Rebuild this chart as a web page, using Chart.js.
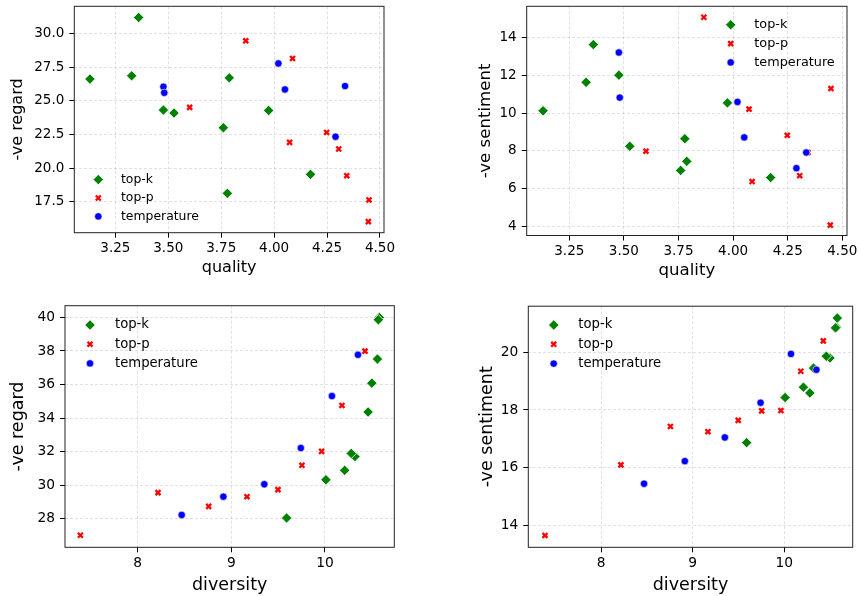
<!DOCTYPE html>
<html>
<head>
<meta charset="utf-8">
<script src="https://cdn.jsdelivr.net/npm/chart.js@4.4.1/dist/chart.umd.min.js"></script>
<style>
  body { margin: 0; background: #fff; }
  #wrap { position: relative; width: 859px; height: 596px; overflow: hidden; }
  canvas { position: absolute; }
</style>
</head>
<body>
<div id="wrap">
  <canvas id="c1" width="430" height="298" style="left:0;top:0"></canvas>
  <canvas id="c2" width="429" height="298" style="left:430px;top:0"></canvas>
  <canvas id="c3" width="430" height="298" style="left:0;top:298px"></canvas>
  <canvas id="c4" width="429" height="298" style="left:430px;top:298px"></canvas>
</div>
<script>
// values
const methods = ['top-k', 'top-p', 'temperature'];

// quality panels
const qualityTopK = [3.36, 3.13, 3.327, 3.788, 3.477, 3.527, 3.76, 3.974, 4.172, 3.779];
const regardQTopK = [31.19, 26.62, 26.86, 26.71, 24.32, 24.10, 23.01, 24.29, 19.55, 18.14];
const sentimentQTopK = [13.64, 10.13, 11.64, 7.45, 12.02, 8.25, 6.97, 10.55, 6.59, 8.65];

const qualityTopP = [3.866, 4.087, 3.601, 4.248, 4.073, 4.305, 4.343, 4.448, 4.445];
const regardQTopP = [29.46, 28.15, 24.52, 22.66, 21.92, 21.43, 19.45, 17.65, 16.04];
const sentimentQTopP = [15.09, 6.38, 7.99, 8.83, 10.22, 6.69, 7.92, 11.31, 4.07];

const qualityTemp = [3.477, 3.481, 4.02, 4.051, 4.335, 4.29];
const regardQTemp = [26.05, 25.60, 27.78, 25.85, 26.10, 22.34];
const sentimentQTemp = [13.22, 10.83, 10.60, 8.72, 7.92, 7.09];

// diversity panels
const diversityTopK = [10.58, 10.57, 10.56, 10.50, 10.46, 10.32, 10.28, 10.21, 10.01, 9.59];
const regardDTopK = [40.0, 39.86, 37.52, 36.08, 34.36, 31.70, 31.89, 30.88, 30.32, 28.04];
const sentimentDTopK = [21.18, 20.86, 20.84, 19.80, 19.86, 19.45, 18.59, 18.79, 18.43, 16.87];

const diversityTopP = [7.388, 8.217, 8.758, 9.167, 9.498, 9.754, 9.964, 10.181, 10.427];
const regardDTopP = [27.01, 29.55, 28.73, 29.31, 29.73, 31.18, 32.01, 34.75, 37.99];
const sentimentDTopP = [13.66, 16.10, 17.43, 17.25, 17.64, 17.97, 17.98, 19.34, 20.39];

const diversityTemp = [8.47, 8.915, 9.352, 9.742, 10.074, 10.352];
const regardDTemp = [28.22, 29.31, 30.05, 32.21, 35.31, 37.77];
const sentimentDTemp = [15.45, 16.23, 17.05, 18.25, 19.94, 19.39];

// tick values
const qualityTicks = [3.25, 3.5, 3.75, 4.0, 4.25, 4.5];
const regardQTicks = [17.5, 20.0, 22.5, 25.0, 27.5, 30.0];
const sentimentQTicks = [4, 6, 8, 10, 12, 14];
const diversityTicks = [8, 9, 10];
const regardDTicks = [28, 30, 32, 34, 36, 38, 40];
const sentimentDTicks = [14, 16, 18, 20];

Chart.defaults.font.family = "'DejaVu Sans', sans-serif";
Chart.defaults.color = '#000';

const pts = (xs, ys) => xs.map((x, i) => ({x: x, y: ys[i]}));

// marker look per method (green diamond, red x, blue dot)
const looks = [
  {pointStyle: 'rectRot', pointRadius: 5.2, backgroundColor: 'green', borderColor: '#fff', borderWidth: 0.8, order: 2},
  {pointStyle: 'crossRot', pointRadius: 3.5, backgroundColor: 'red', borderColor: 'red', borderWidth: 2.3, order: 1},
  {pointStyle: 'circle', pointRadius: 3.7, backgroundColor: 'blue', borderColor: '#fff', borderWidth: 0.6, order: 0}
];

// legend drawn inside the axes, like matplotlib
const inLegend = {
  id: 'inLegend',
  afterDatasetsDraw(chart, args, opts) {
    const {ctx, chartArea} = chart;
    ctx.save();
    chart.data.datasets.forEach((ds, i) => {
      const x = chartArea.left + opts.x;
      const y = chartArea.top + opts.y + i * opts.gap;
      ctx.fillStyle = ds.backgroundColor;
      ctx.strokeStyle = ds.borderColor;
      ctx.lineWidth = ds.borderWidth;
      Chart.helpers.drawPoint(ctx, {pointStyle: ds.pointStyle, radius: ds.pointRadius, rotation: 0, borderWidth: ds.borderWidth}, x, y);
      ctx.fillStyle = '#000';
      ctx.font = opts.size + "px 'DejaVu Sans'";
      ctx.textBaseline = 'middle';
      ctx.textAlign = 'left';
      ctx.fillText(ds.label, x + opts.dx, y);
    });
    ctx.restore();
  }
};

// black box round the plot area
const frame = {
  id: 'frame',
  afterDraw(chart) {
    const {ctx, chartArea: a} = chart;
    ctx.save();
    ctx.strokeStyle = '#222';
    ctx.lineWidth = 1;
    ctx.strokeRect(a.left, a.top, a.right - a.left, a.bottom - a.top);
    ctx.restore();
  }
};

function makechart(id, g, series) {
  const datasets = series.map((s, i) => Object.assign({label: methods[i], data: s}, looks[i]));
  const config = {
    type: 'scatter',
    data: {datasets},
    options: {
      responsive: false,
      animation: false,
      events: [],
      layout: {padding: {left: 0, top: g.padTop, right: g.padRight, bottom: 0}},
      plugins: {
        legend: {display: false},
        tooltip: {enabled: false},
        inLegend: g.legend
      },
      scales: {
        x: {
          type: 'linear', min: g.xMin, max: g.xMax,
          afterBuildTicks: s => { s.ticks = g.xTicks.map(v => ({value: v})); },
          afterFit: s => { s.height = g.xh; s.paddingLeft = 0; s.paddingRight = 0; },
          ticks: {callback: v => v.toFixed(g.xDec), font: {size: g.tickSize}, color: '#000', padding: 3, maxRotation: 0, autoSkip: false},
          grid: {color: 'rgba(0,0,0,0.15)', lineWidth: 0.8, tickColor: '#000', tickLength: 5, tickWidth: 1, tickBorderDash: []},
          border: {display: false, dash: [3, 2]},
          title: {display: true, text: g.xLabel, font: {size: g.labelSize}, color: '#000', padding: {top: 0, bottom: g.xTitlePad}}
        },
        y: {
          type: 'linear', min: g.yMin, max: g.yMax,
          afterBuildTicks: s => { s.ticks = g.yTicks.map(v => ({value: v})); },
          afterFit: s => { s.width = g.yw; s.paddingTop = 0; s.paddingBottom = 0; },
          ticks: {callback: v => v.toFixed(g.yDec), font: {size: g.tickSize}, color: '#000', padding: 5, autoSkip: false},
          grid: {color: 'rgba(0,0,0,0.15)', lineWidth: 0.8, tickColor: '#000', tickLength: 5, tickWidth: 1, tickBorderDash: []},
          border: {display: false, dash: [3, 2]},
          title: {display: true, text: g.yLabel, font: {size: g.labelSize}, color: '#000', padding: {top: g.yTitlePad, bottom: 0}}
        }
      }
    },
    plugins: [inLegend, frame]
  };
  return new Chart(document.getElementById(id), config);
}

makechart('c1', {
  xMin: 3.056, xMax: 4.519, yMin: 15.22, yMax: 32.02,
  xTicks: qualityTicks, yTicks: regardQTicks, xDec: 2, yDec: 1,
  xLabel: 'quality', yLabel: '-ve regard',
  yw: 74.3, xh: 65.3, padTop: 6, padRight: 46,
  xTitlePad: 20.4, yTitlePad: 8.4, tickSize: 13.5, labelSize: 16,
  legend: {x: 24, y: 173.3, gap: 18.4, dx: 22.7, size: 12.4}
}, [pts(qualityTopK, regardQTopK), pts(qualityTopP, regardQTopP), pts(qualityTemp, regardQTemp)]);

makechart('c2', {
  xMin: 3.055, xMax: 4.5215, yMin: 3.52, yMax: 15.67,
  xTicks: qualityTicks, yTicks: sentimentQTicks, xDec: 2, yDec: 0,
  xLabel: 'quality', yLabel: '-ve sentiment',
  yw: 96.7, xh: 62.5, padTop: 2.2, padRight: 12,
  xTitlePad: 17.4, yTitlePad: 45.4, tickSize: 13.5, labelSize: 16.6,
  legend: {x: 204, y: 18.5, gap: 18.8, dx: 23.6, size: 12.8}
}, [pts(qualityTopK, sentimentQTopK), pts(qualityTopP, sentimentQTopP), pts(qualityTemp, sentimentQTemp)]);

makechart('c3', {
  xMin: 7.224, xMax: 10.74, yMin: 26.29, yMax: 40.7,
  xTicks: diversityTicks, yTicks: regardDTicks, xDec: 0, yDec: 0,
  xLabel: 'diversity', yLabel: '-ve regard',
  yw: 65, xh: 48.7, padTop: 7.7, padRight: 35.7,
  xTitlePad: 0.4, yTitlePad: 8.4, tickSize: 13.8, labelSize: 17.5,
  legend: {x: 25, y: 19.3, gap: 19.2, dx: 25, size: 13.2}
}, [pts(diversityTopK, regardDTopK), pts(diversityTopP, regardDTopP), pts(diversityTemp, regardDTemp)]);

makechart('c4', {
  xMin: 7.206, xMax: 10.748, yMin: 13.25, yMax: 21.59,
  xTicks: diversityTicks, yTicks: sentimentDTicks, xDec: 0, yDec: 0,
  xLabel: 'diversity', yLabel: '-ve sentiment',
  yw: 98.3, xh: 48.7, padTop: 8.2, padRight: 0.7,
  xTitlePad: 0.4, yTitlePad: 47.4, tickSize: 13.8, labelSize: 17.5,
  legend: {x: 25.4, y: 18.8, gap: 19.3, dx: 24.6, size: 13.2}
}, [pts(diversityTopK, sentimentDTopK), pts(diversityTopP, sentimentDTopP), pts(diversityTemp, sentimentDTemp)]);
</script>
</body>
</html>
